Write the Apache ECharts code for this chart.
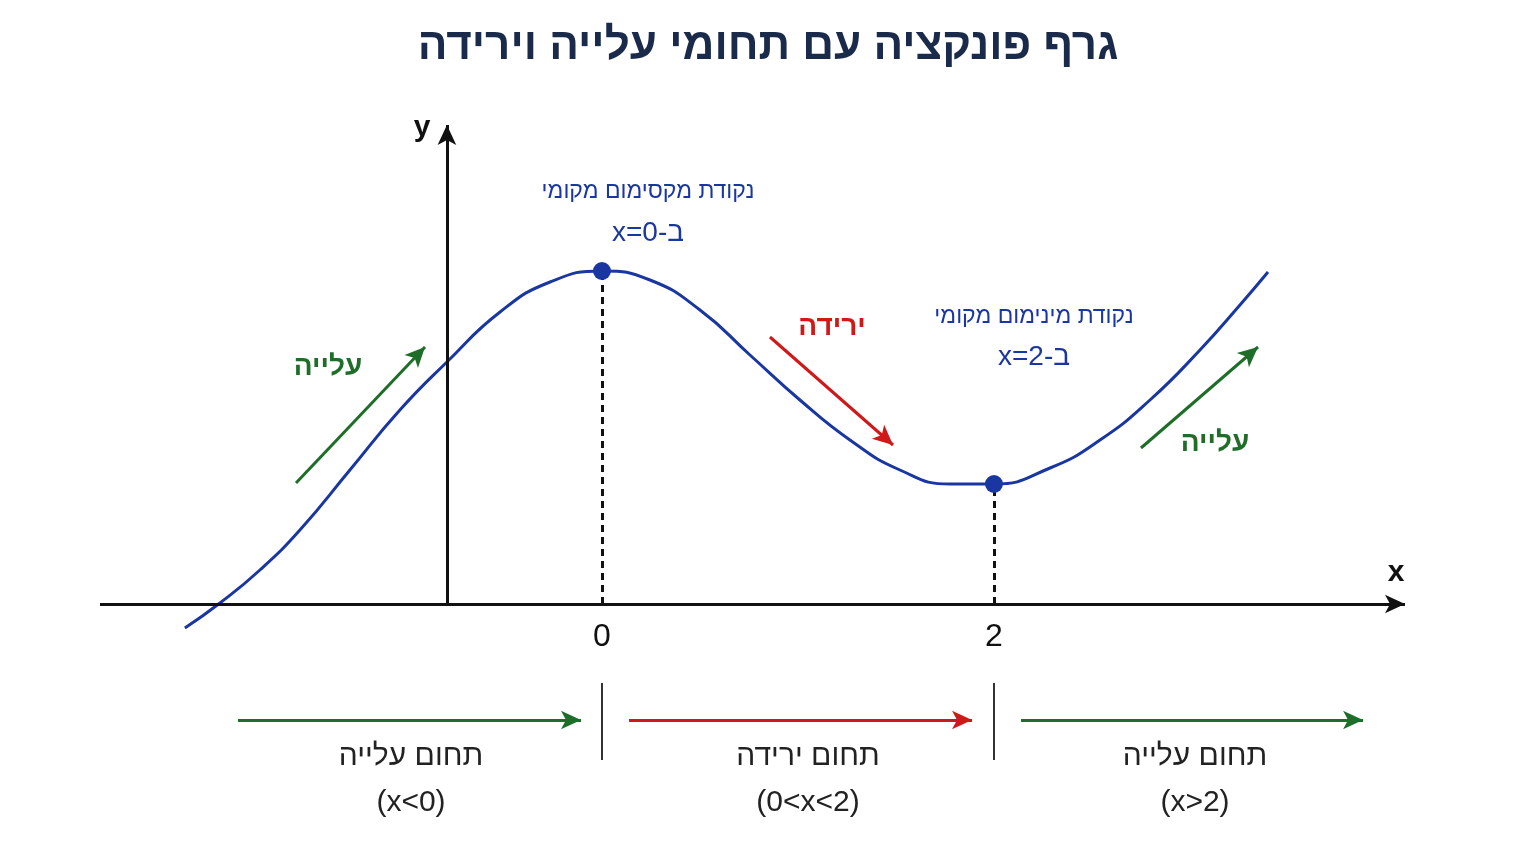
<!DOCTYPE html>
<html><head><meta charset="utf-8">
<script src="https://cdn.jsdelivr.net/npm/echarts@6/dist/echarts.min.js"></script>
<style>html,body{margin:0;background:#fff}#c{width:1536px;height:864px}</style>
</head><body><div id="c"></div>
<script>
const curveX = [-2.128,-1.949,-1.745,-1.541,-1.286,-1.031,-0.791,-0.520,-0.265,0,0.245,0.5,0.755,1.010,1.265,1.520,1.776,2,2.286,2.541,2.796,3.051,3.255,3.398];
const curveY = [-0.24,0.01,0.34,0.74,1.34,1.94,2.42,2.92,3.22,3.33,3.24,2.94,2.49,2.04,1.64,1.34,1.20,1.20,1.36,1.64,2.04,2.54,2.99,3.32];
const extremaX = [0, 2];
const extremaY = [3.33, 1.20];
const xTicks = ['0', '2'];
const trendArrows = [
  {from:[-1.561,1.21], to:[-0.903,2.57], color:'#1e6e2a'},
  {from:[0.857,2.67], to:[1.485,1.59], color:'#d01818'},
  {from:[2.75,1.56], to:[3.347,2.57], color:'#1e6e2a'}
];
const rangeArrows = [
  {from:[-1.857,-1.16], to:[-0.107,-1.16], color:'#1e6e2a'},
  {from:[0.138,-1.16], to:[1.888,-1.16], color:'#d01818'},
  {from:[2.138,-1.16], to:[3.883,-1.16], color:'#1e6e2a'}
];
const yAxisAt = -0.791;
const xMin = -2.561, xMax = 4.097;

const chart = echarts.init(document.getElementById('c'));
const T = (x,y,text,opt) => Object.assign({type:'text',x,y,style:Object.assign({text,textAlign:'center',textVerticalAlign:'middle',fontFamily:'Arial, "Liberation Sans", sans-serif',fontSize:30,fill:'#222'},opt||{})});
const arrowLines = arr => arr.map(a => [{coord:a.from, lineStyle:{color:a.color,width:3,type:'solid'}},{coord:a.to}]);
chart.setOption({
  animation:false,
  title:{text:'גרף פונקציה עם תחומי עלייה וירידה',left:'center',top:20,textStyle:{fontSize:44,fontWeight:'bold',color:'#1a2a4a',fontFamily:'Arial, "Liberation Sans", sans-serif'}},
  grid:{left:100,top:120,width:1305,height:734},
  xAxis:{type:'value',min:xMin,max:xMax,show:false},
  yAxis:{type:'value',min:-2.5,max:4.84,show:false},
  series:[
    {type:'line',smooth:0.5,symbol:'none',data:curveX.map((x,i)=>[x,curveY[i]]),lineStyle:{color:'#1a36a0',width:3},z:3,
     markLine:{silent:true,symbol:['none','arrow'],symbolSize:[14,20],label:{show:false},
       data:[
        [{coord:[xMin,0],lineStyle:{color:'#111',width:3,type:'solid'}},{coord:[xMax,0]}],
        [{coord:[yAxisAt,0],lineStyle:{color:'#111',width:3,type:'solid'}},{coord:[yAxisAt,4.79]}],
        ...arrowLines(trendArrows),
        ...arrowLines(rangeArrows)
       ]}},
    {type:'line',data:[],markLine:{silent:true,symbol:'none',label:{show:false},
       data:[
        ...extremaX.map((x,i)=>[{coord:[x,0],lineStyle:{color:'#111',width:3,type:[7,5]}},{coord:[x,extremaY[i]]}]),
        ...extremaX.map(x=>[{coord:[x,-0.79],lineStyle:{color:'#333',width:2,type:'solid'}},{coord:[x,-1.56]}])
       ]}},
    {type:'scatter',data:extremaX.map((x,i)=>[x,extremaY[i]]),symbolSize:18,itemStyle:{color:'#1a36a0',opacity:1},z:5,
     label:{show:false}}
  ],
  graphic:[
    T(422,128,'y',{fontWeight:'bold',fontSize:30,fill:'#111'}),
    T(1396,573,'x',{fontWeight:'bold',fontSize:30,fill:'#111'}),
    T(602,637,xTicks[0],{fontSize:32,fill:'#111'}),
    T(994,637,xTicks[1],{fontSize:32,fill:'#111'}),
    T(648,192,'נקודת מקסימום מקומי',{fontSize:23,fill:'#1a36a0'}),
    T(648,233,'x=0-ב',{fontSize:28,fill:'#1a36a0'}),
    T(1034,317,'נקודת מינימום מקומי',{fontSize:23,fill:'#1a36a0'}),
    T(1034,357,'x=2-ב',{fontSize:28,fill:'#1a36a0'}),
    T(832,327,'ירידה',{fontSize:28,fontWeight:'bold',fill:'#d01818'}),
    T(328,367,'עלייה',{fontSize:28,fontWeight:'bold',fill:'#1e6e2a'}),
    T(1215,443,'עלייה',{fontSize:28,fontWeight:'bold',fill:'#1e6e2a'}),
    T(411,757,'תחום עלייה'),T(411,803,'(x<0)'),
    T(808,757,'תחום ירידה'),T(808,803,'(0<x<2)'),
    T(1195,757,'תחום עלייה'),T(1195,803,'(x>2)')
  ]
});
</script></body></html>
